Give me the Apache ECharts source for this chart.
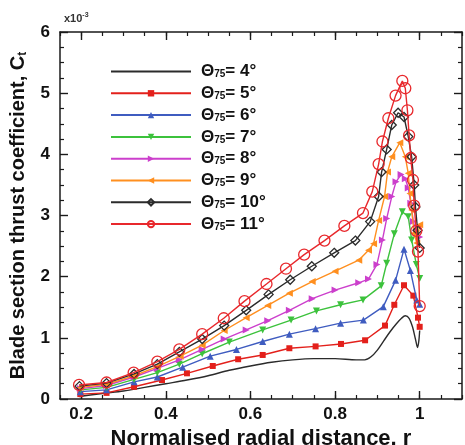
<!DOCTYPE html>
<html>
<head>
<meta charset="utf-8">
<script src="https://cdn.jsdelivr.net/npm/echarts@6/dist/echarts.min.js"></script>
<style>
  html, body { margin: 0; padding: 0; background: #fff; }
  #chart { width: 465px; height: 445px; }
</style>
</head>
<body>
<div id="chart"></div>
<script>
// blade pitch angles (deg)
const angles = [4, 5, 6, 7, 8, 9, 10, 11];

// radial stations and Ct (x1e-3), one pair per curve
const r4 = [0.195, 0.25, 0.3, 0.35, 0.4, 0.45, 0.5, 0.55, 0.6, 0.65, 0.7, 0.75, 0.8, 0.85, 0.87, 0.885, 0.9, 0.915, 0.93, 0.945, 0.957, 0.966, 0.975, 0.983, 0.99, 0.995, 0.998, 1.0];
const c4 = [0.04, 0.09, 0.13, 0.19, 0.25, 0.31, 0.38, 0.47, 0.54, 0.6, 0.64, 0.66, 0.66, 0.64, 0.64, 0.69, 0.8, 0.95, 1.1, 1.23, 1.32, 1.36, 1.32, 1.18, 0.98, 0.84, 0.95, 1.12];

const r5 = [0.198, 0.26, 0.325, 0.391, 0.45, 0.511, 0.571, 0.629, 0.692, 0.754, 0.814, 0.871, 0.918, 0.94, 0.963, 0.985, 0.996, 1.0];
const c5 = [0.08, 0.10, 0.20, 0.31, 0.42, 0.54, 0.65, 0.72, 0.83, 0.86, 0.90, 0.96, 1.20, 1.54, 1.86, 1.69, 1.33, 1.18];

const r6 = [0.198, 0.26, 0.325, 0.38, 0.44, 0.505, 0.567, 0.629, 0.692, 0.754, 0.813, 0.867, 0.914, 0.943, 0.963, 0.978, 0.993, 1.0];
const c6 = [0.12, 0.15, 0.28, 0.36, 0.52, 0.70, 0.81, 0.94, 1.06, 1.15, 1.24, 1.29, 1.51, 1.94, 2.45, 2.10, 1.62, 1.55];

const r7 = [0.198, 0.26, 0.325, 0.38, 0.432, 0.486, 0.55, 0.629, 0.696, 0.756, 0.813, 0.866, 0.909, 0.922, 0.94, 0.959, 0.973, 0.981, 0.992, 1.0];
const c7 = [0.15, 0.19, 0.32, 0.43, 0.57, 0.74, 0.93, 1.13, 1.29, 1.44, 1.54, 1.62, 1.85, 2.22, 2.70, 3.06, 2.98, 2.60, 2.20, 1.97];

const r8 = [0.198, 0.26, 0.325, 0.38, 0.432, 0.486, 0.538, 0.59, 0.641, 0.692, 0.746, 0.80, 0.856, 0.879, 0.899, 0.912, 0.922, 0.934, 0.944, 0.956, 0.966, 0.973, 0.979, 0.985, 0.992, 1.0];
const c8 = [0.17, 0.22, 0.36, 0.50, 0.64, 0.81, 0.98, 1.13, 1.28, 1.45, 1.64, 1.78, 1.90, 1.96, 2.20, 2.60, 2.95, 3.31, 3.55, 3.67, 3.60, 3.45, 3.20, 2.90, 2.75, 2.65];

const r9 = [0.198, 0.26, 0.325, 0.38, 0.434, 0.486, 0.538, 0.59, 0.641, 0.692, 0.746, 0.80, 0.856, 0.879, 0.891, 0.903, 0.917, 0.924, 0.934, 0.953, 0.966, 0.973, 0.977, 0.981, 0.987, 0.993, 1.0];
const c9 = [0.19, 0.24, 0.38, 0.53, 0.70, 0.88, 1.12, 1.33, 1.53, 1.73, 1.92, 2.09, 2.27, 2.43, 2.54, 2.92, 3.31, 3.71, 3.96, 4.19, 3.96, 3.69, 3.36, 3.09, 2.71, 2.55, 2.85];

const r10 = [0.196, 0.26, 0.325, 0.38, 0.432, 0.486, 0.538, 0.59, 0.643, 0.694, 0.745, 0.798, 0.848, 0.883, 0.903, 0.91, 0.922, 0.934, 0.949, 0.963, 0.973, 0.981, 0.987, 0.99, 0.995, 1.0];
const c10 = [0.21, 0.26, 0.41, 0.57, 0.77, 0.98, 1.20, 1.45, 1.71, 1.95, 2.17, 2.39, 2.59, 2.90, 3.31, 3.71, 4.08, 4.48, 4.68, 4.61, 4.29, 3.96, 3.50, 3.14, 2.76, 2.47];

const r11 = [0.195, 0.26, 0.324, 0.38, 0.432, 0.486, 0.537, 0.586, 0.638, 0.684, 0.727, 0.775, 0.822, 0.866, 0.888, 0.903, 0.912, 0.926, 0.943, 0.959, 0.966, 0.971, 0.975, 0.979, 0.984, 0.987, 0.992, 0.996, 1.0];
const c11 = [0.23, 0.27, 0.43, 0.61, 0.81, 1.06, 1.32, 1.60, 1.88, 2.13, 2.36, 2.59, 2.83, 3.04, 3.39, 3.84, 4.21, 4.59, 4.96, 5.20, 5.08, 4.72, 4.31, 3.94, 3.58, 3.16, 2.75, 2.41, 1.52];

const xMajor = [0.2, 0.4, 0.6, 0.8, 1];

const radii = [r4, r5, r6, r7, r8, r9, r10, r11];
const cts = [c4, c5, c6, c7, c8, c9, c10, c11];

const colors = ['#2b2b2b', '#e3201b', '#3f5cc0', '#3cc23c', '#cc3fcc', '#ff8f1f', '#2b2b2b', '#e8282c'];
const marks = [
  { symbol: 'none', size: 0, rotate: 0, hollow: false },
  { symbol: 'rect', size: 6, rotate: 0, hollow: false },
  { symbol: 'triangle', size: 7, rotate: 0, hollow: false },
  { symbol: 'triangle', size: 7, rotate: 180, hollow: false },
  { symbol: 'triangle', size: 7, rotate: -90, hollow: false },
  { symbol: 'triangle', size: 7, rotate: 90, hollow: false },
  { symbol: 'diamond', size: 9, rotate: 0, hollow: true },
  { symbol: 'circle', size: 11, rotate: 0, hollow: true }
];

const names = angles.map(a => 'Θ75= ' + a + '°');

const series = angles.map((a, i) => ({
  name: names[i],
  type: 'line',
  data: radii[i].map((x, j) => [x, cts[i][j]]),
  symbol: marks[i].symbol,
  symbolSize: marks[i].size,
  symbolRotate: marks[i].rotate,
  showSymbol: marks[i].symbol !== 'none',
  lineStyle: { color: colors[i], width: 1.4 },
  itemStyle: marks[i].hollow
    ? { color: 'rgba(255,255,255,0)', borderColor: colors[i], borderWidth: 1.3 }
    : { color: colors[i], borderWidth: 0 },
  smooth: i === 0 ? 0.3 : false,
  animation: false,
  z: 2 + i
}));

const chart = echarts.init(document.getElementById('chart'));
const font = 'Liberation Sans, Arial, sans-serif';
const axisCol = '#1a1a1a';

const xBase = {
  type: 'value', min: 0.15, max: 1.1, interval: 0.05,
  splitLine: { show: false },
  axisLine: { show: true, lineStyle: { color: axisCol, width: 1.5 } },
  axisLabel: { show: false },
  axisTick: { show: true, inside: true, length: 4, lineStyle: { color: axisCol, width: 1.2 } }
};
const xMajorAxis = (pos) => ({
  type: 'value', min: 0.15, max: 1.1, position: pos,
  splitLine: { show: false },
  axisLine: { show: false },
  axisLabel: { show: false },
  axisTick: { show: true, inside: true, length: 8, customValues: xMajor, lineStyle: { color: axisCol, width: 1.4 } }
});

const yBase = (pos) => ({
  type: 'value', min: 0, max: 6, interval: 1, position: pos,
  splitLine: { show: false },
  axisLine: { show: true, lineStyle: { color: axisCol, width: 1.5 } },
  axisTick: { show: true, inside: true, length: 8, lineStyle: { color: axisCol, width: 1.4 } },
  minorTick: { show: true, splitNumber: 4, length: 4, lineStyle: { color: axisCol, width: 1.2 } },
  minorSplitLine: { show: false }
});

chart.setOption({
  backgroundColor: '#fff',
  animation: false,
  grid: { left: 60, right: 3, top: 32, bottom: 46, outerBoundsMode: 'none' },
  xAxis: [
    Object.assign({}, xBase, {
      position: 'bottom',
      axisLabel: {
        show: true, customValues: xMajor, margin: 7,
        fontFamily: font, fontWeight: 'bold', fontSize: 17, color: '#111',
        formatter: v => String(v)
      },
      name: 'Normalised radial distance, r',
      nameLocation: 'middle', nameGap: 24,
      nameTextStyle: { fontFamily: font, fontWeight: 'bold', fontSize: 22, color: '#111' }
    }),
    xMajorAxis('bottom'),
    Object.assign({}, xBase, { position: 'top' }),
    xMajorAxis('top')
  ],
  yAxis: [
    Object.assign(yBase('left'), {
      axisLabel: { show: true, margin: 10, fontFamily: font, fontWeight: 'bold', fontSize: 17, color: '#111' },
      name: '{a|Blade section thrust coefficient, C}{s|t}',
      nameLocation: 'middle', nameGap: 31, nameRotate: 90,
      nameTextStyle: {
        rich: {
          a: { fontFamily: font, fontWeight: 'bold', fontSize: 20, color: '#111' },
          s: { fontFamily: font, fontWeight: 'bold', fontSize: 12, color: '#111', verticalAlign: 'bottom', padding: [9, 0, 0, 0] }
        }
      }
    }),
    Object.assign(yBase('right'), { axisLabel: { show: false } })
  ],
  legend: {
    orient: 'vertical', left: 105, top: 58,
    itemWidth: 80, itemHeight: 8, itemGap: 4.8,
    data: names.map((n, i) => i === 0 ? { name: n, itemStyle: { opacity: 0 } } : { name: n }),
    formatter: name => '{a|Θ}{s|75}{a|' + name.slice(3) + '}',
    textStyle: {
      padding: [0, 0, 0, 5],
      lineHeight: 16,
      rich: {
        a: { fontFamily: font, fontWeight: 'bold', fontSize: 17, color: '#111', lineHeight: 16 },
        s: { fontFamily: font, fontWeight: 'bold', fontSize: 10, color: '#111', lineHeight: 16, verticalAlign: 'bottom', padding: [6, 0, 0, 0] }
      }
    }
  },
  graphic: [{
    type: 'text', left: 64, top: 12,
    style: {
      text: '{a|x10}{b|-3}',
      rich: {
        a: { fontFamily: font, fontWeight: 'bold', fontSize: 11, fill: '#333' },
        b: { fontFamily: font, fontWeight: 'bold', fontSize: 7, fill: '#333', verticalAlign: 'top', padding: [0, 0, 6, 0] }
      }
    }
  }],
  series: series
});
</script>
</body>
</html>
